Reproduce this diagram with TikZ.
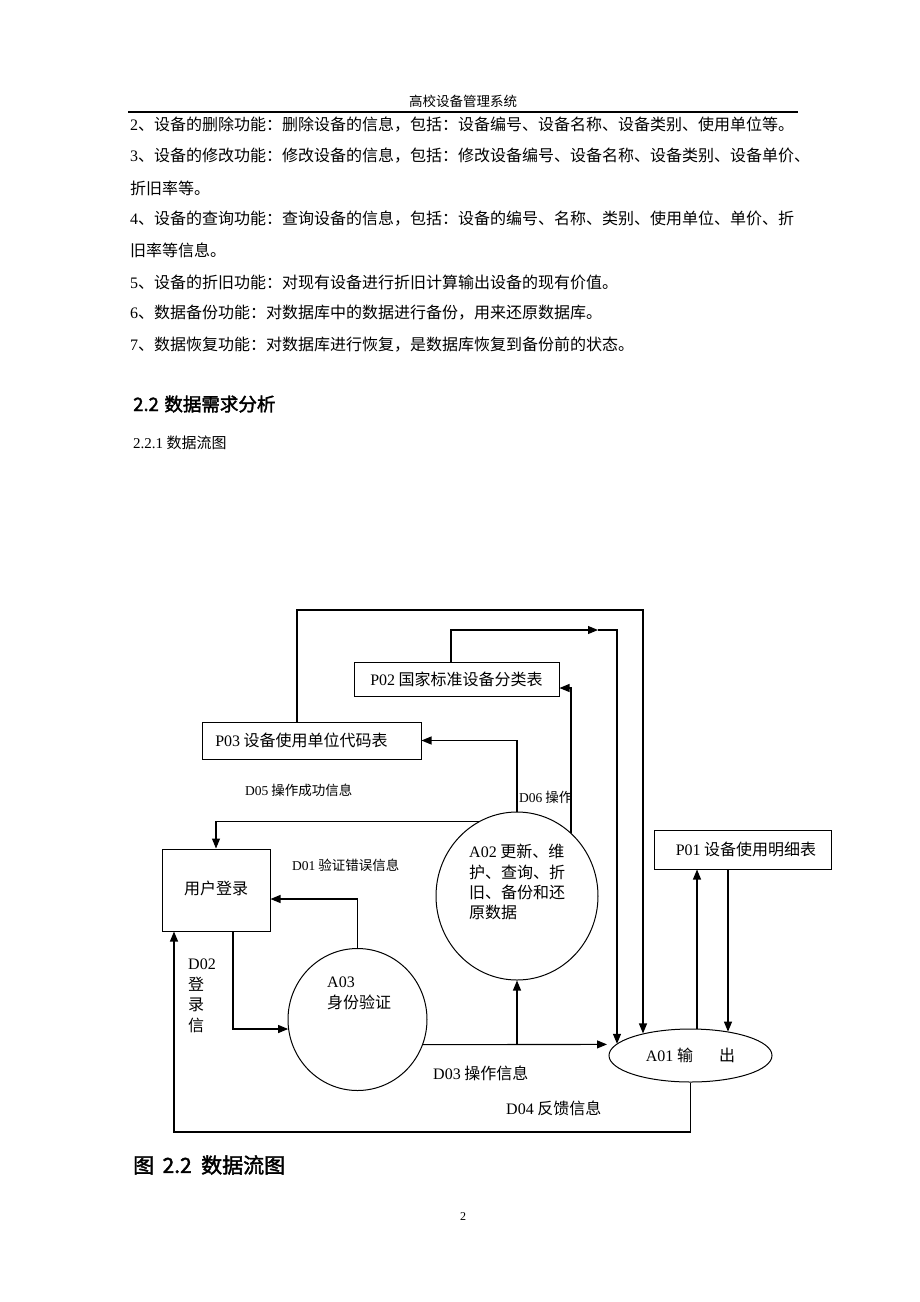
\documentclass[tikz,border=0pt]{standalone}
\usepackage{fontspec}
\setmainfont{Liberation Serif}
\newfontfamily\cjk[AutoFakeBold=2]{Noto Sans CJK SC}
\usetikzlibrary{arrows.meta,shapes.geometric}
\newcommand\latn[1]{{\rmfamily #1}}
\XeTeXlinebreaklocale "zh"
\XeTeXlinebreakskip=0pt plus 2pt minus 1pt
\begin{document}
\begin{tikzpicture}[x=1pt,y=-1pt,
  box/.style={draw,line width=1pt,inner sep=0pt,font=\cjk\fontsize{16}{20}\selectfont},
  proc/.style={draw,line width=1pt,ellipse,inner sep=0pt,font=\cjk\fontsize{16}{20}\selectfont},
  arr/.style={line width=1.1pt,-{Triangle[length=10pt,width=8pt]}},
  txt/.style={inner sep=0pt,font=\cjk\fontsize{16}{20.4}\selectfont},
  stxt/.style={inner sep=0pt,font=\cjk\fontsize{13.5}{16}\selectfont},
  body/.style={inner sep=0pt,anchor=west,font=\cjk\fontsize{16}{20}\selectfont}]
\useasboundingbox (0,0) rectangle (920,1302);
\fill[white] (0,0) rectangle (920,1302);
% header
\node[inner sep=0pt,font=\cjk\fontsize{13.5}{16}\selectfont] (hdr) at (463,101) {高校设备管理系统};
\draw[line width=1.5pt] (128,112) -- (798,112);
% body text
\node[body] (l1) at (130,125) {\hbox to 668pt{\latn{2}、设备的删除功能：删除设备的信息，包括：设备编号、设备名称、设备类别、使用单位等。}};
\node[body] (l2) at (130,156) {\hbox to 668pt{\latn{3}、设备的修改功能：修改设备的信息，包括：修改设备编号、设备名称、设备类别、设备单价、}};
\node[body] (l3) at (130,188) {折旧率等。};
\node[body] (l4) at (130,219) {\hbox to 670pt{\latn{4}、设备的查询功能：查询设备的信息，包括：设备的编号、名称、类别、使用单位、单价、折}};
\node[body] (l5) at (130,250) {旧率等信息。};
\node[body] (l6) at (130,282) {\latn{5}、设备的折旧功能：对现有设备进行折旧计算输出设备的现有价值。};
\node[body] (l7) at (130,313) {\latn{6}、数据备份功能：对数据库中的数据进行备份，用来还原数据库。};
\node[body] (l8) at (130,345) {\latn{7}、数据恢复功能：对数据库进行恢复，是数据库恢复到备份前的状态。};
\node[anchor=west,inner sep=0pt,font=\cjk\bfseries\fontsize{18.5}{20}\selectfont] (h22) at (133,404) {2.2\hspace{0.3em}数据需求分析};
\node[anchor=west,inner sep=0pt,font=\cjk\fontsize{15}{18}\selectfont] (h221) at (133,443) {\latn{2.2.1} 数据流图};
% diagram nodes
\node[box,minimum width=205pt,minimum height=34pt] (p02) at (456.5,679) {\latn{P02} 国家标准设备分类表};
\node[box,minimum width=219pt,minimum height=37pt] (p03) at (311.5,740.5) {\latn{P03} 设备使用单位代码表\hspace*{20pt}};
\node[box,minimum width=177pt,minimum height=39pt] (p01) at (742.5,849.5) {\hspace*{7pt}\latn{P01} 设备使用明细表};
\node[box,minimum width=108pt,minimum height=82pt] (login) at (216,890) {\raisebox{5pt}{用户登录}};
\node[proc,minimum width=162pt,minimum height=168pt] (a02) at (517,896) {};
\node[txt,anchor=north west,align=left] (a02t) at (469,844) {\latn{A02} 更新、维\\护、查询、折\\旧、备份和还\\原数据};
\node[proc,minimum width=139pt,minimum height=142pt] (a03) at (357.5,1019.5) {};
\node[txt,anchor=north west,align=left] (a03t) at (327,977) {\latn{A03}\\身份验证};
\node[proc,minimum width=163pt,minimum height=53pt] (a01) at (690.5,1055.5) {\latn{A01} 输\hspace{26pt}出};
% labels
\node[stxt,anchor=west] (d05) at (245,790) {\latn{D05} 操作成功信息};
\node[stxt,anchor=west] (d06) at (519,797) {\latn{D06} 操作};
\node[stxt,anchor=west] (d01) at (292,865) {\latn{D01} 验证错误信息};
\node[txt,anchor=north west,align=left] (d02) at (188,959) {\latn{D02}\\登\\录\\信};
\node[txt,anchor=west] (d03) at (433,1073) {\latn{D03} 操作信息};
\node[txt,anchor=west] (d04) at (506,1108) {\latn{D04} 反馈信息};
% caption and page number
\node[anchor=west,inner sep=0pt,font=\cjk\bfseries\fontsize{21}{24}\selectfont] (cap) at (133,1165) {图\hspace{0.4em}2.2\hspace{0.45em}数据流图};
\node[inner sep=0pt,font=\fontsize{12}{14}\selectfont] (pg) at (463,1217) {2};
% helper coordinates
\coordinate (t1) at (297,610);
\coordinate (t2) at (643,610);
\coordinate (s1) at (451,630);
\coordinate (m1) at (598,630);
\coordinate (s2) at (617,630);
\coordinate (q1) at (571,688);
\coordinate (r1) at (355,899);
\coordinate (l1c) at (233,1029);
\coordinate (h2) at (607,1044.4);
\coordinate (b1) at (174,1132);
\coordinate (v1) at (697,0);
\coordinate (v2) at (728,0);
% connectors
\draw[arr] (t1 |- p03.north) -- (t1) -- (t2) -- (t2 |- a01.155);
\draw[arr] (s1 |- p02.north) -- (s1) -- (m1);
\draw[arr] (m1) -- (s2) -- (s2 |- a01.171);
\draw[arr] (a02.north) |- (p03.east);
\draw[arr] (q1 |- a02.49) -- (q1) -- (q1 -| p02.east);
\draw[arr] (a02.117) -| (login.north);
\draw[arr] (a03.north) |- (login.east |- r1);
\draw[arr] (l1c |- login.south) -- (l1c) -- (l1c -| a03.188);
\draw[arr] (a03.339) -- (h2);
\draw[arr] (a02.south |- h2) -- (a02.south);
\draw[arr] (a01.south) |- (b1) -- (b1 |- login.south);
\draw[arr] (v1 |- a01.75) -- (v1 |- p01.south);
\draw[arr] (v2 |- p01.south) -- (v2 |- a01.32);
\end{tikzpicture}
\end{document}
